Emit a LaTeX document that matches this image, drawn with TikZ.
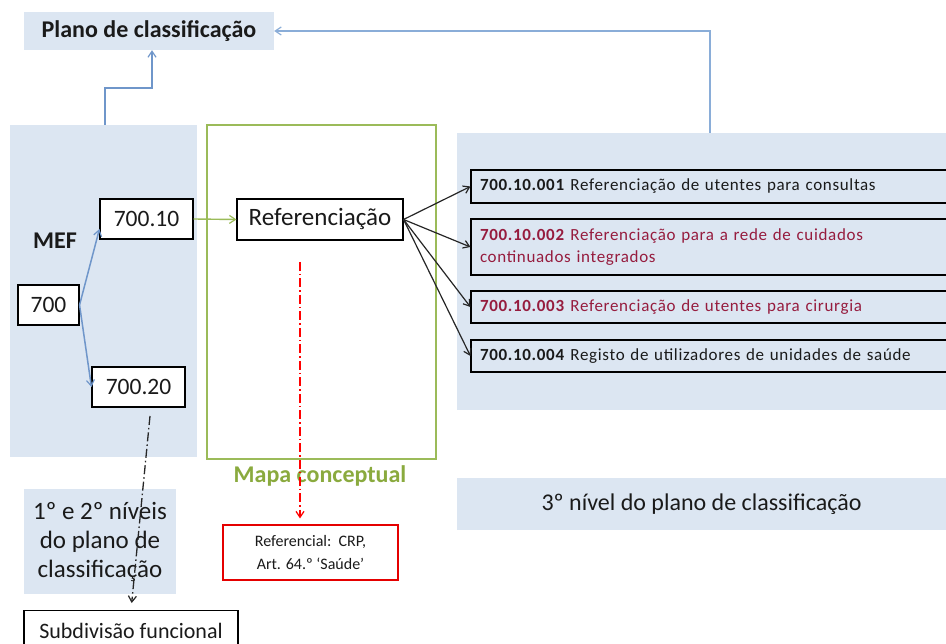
\documentclass[tikz,border=0pt]{standalone}
\usepackage{fontspec}
\setmainfont{Carlito}
\usetikzlibrary{arrows.meta}
\definecolor{panel}{HTML}{DCE6F2}
\definecolor{bluearr}{HTML}{6F96CA}
\definecolor{bluearr2}{HTML}{8AADD8}
\definecolor{grn}{HTML}{9BBB59}
\definecolor{grntxt}{HTML}{8AAA3E}
\definecolor{dred}{RGB}{150,28,62}
\definecolor{txt}{HTML}{1A1A1A}
\tikzset{
  panelbox/.style={fill=panel, draw=none, inner sep=0pt, text=txt},
  blk/.style={draw=black, line width=1.1pt, fill=white, inner sep=0pt, text=txt},
  item/.style={draw=black, line width=1.1pt, fill=panel, inner sep=0pt, inner xsep=9pt,
     minimum width=489pt, text width=471pt, align=left, text=txt,
     font=\fontsize{17}{22}\selectfont\addfontfeatures{LetterSpace=4}},
  fs/.style={font=\fontsize{#1}{#1}\selectfont},
  barb/.style={-{Straight Barb[length=6pt,width=8pt,line width=1.2pt]}},
}
\begin{document}
\begin{tikzpicture}[x=1pt,y=-1pt]
\useasboundingbox (0,0) rectangle (946,644);
\fill[white] (0,0) rectangle (946,644);
\clip (0,0) rectangle (946,644);

% panels
\node[panelbox, minimum width=250pt, minimum height=38pt, font=\fontsize{24}{24}\selectfont\bfseries] (plano) at (149,31) {Plano de classificação};
\node[panelbox, minimum width=187pt, minimum height=332pt] (mef) at (103.5,291) {};
\node[draw=grn, line width=1.3pt, minimum width=229pt, minimum height=334pt, inner sep=0pt] (mapa) at (321.5,292) {};
\node[panelbox, minimum width=489pt, minimum height=277pt] (right) at (701.5,271.5) {};

\node[text=txt, font=\fontsize{24}{24}\selectfont\bfseries] (meflbl) at (55,241) {MEF};

% MEF boxes
\node[blk, minimum width=61pt, minimum height=40pt, fs=23.5] (n700) at (48.5,305) {700};
\node[blk, minimum width=93pt, minimum height=40pt, fs=23.5] (n70010) at (146.5,219) {700.10};
\node[blk, minimum width=93pt, minimum height=40pt, fs=23.5] (n70020) at (138.5,387) {700.20};

% concept
\node[blk, minimum width=166pt, minimum height=41pt, fs=25] (ref) at (320,219.5) {Referenciação};

% right items
\node[item, minimum height=33pt] (b1) at (715.5,186.5) {\textbf{700.10.001} Referenciação de utentes para consultas};
\node[item, minimum height=56pt, text=dred] (b2) at (715.5,247) {\textbf{700.10.002} Referenciação para a rede de cuidados\\continuados integrados};
\node[item, minimum height=32pt, text=dred] (b3) at (715.5,307) {\textbf{700.10.003} Referenciação de utentes para cirurgia};
\node[item, minimum height=32pt] (b4) at (715.5,356) {\textbf{700.10.004} Registo de utilizadores de unidades de saúde};

% labels below
\node[text=grntxt, font=\fontsize{24}{24}\selectfont\bfseries] (mapalbl) at (320,476) {Mapa conceptual};
\node[draw=red!90!black, line width=1.2pt, fill=white, minimum width=175pt, minimum height=55pt, inner sep=0pt,
      align=center, text=txt, font=\fontsize{16}{23}\selectfont] (refl) at (310.5,552.5) {Referencial:\ \ CRP,\\Art. 64.º ‘Saúde’};
\node[panelbox, minimum width=152pt, minimum height=105pt, align=center, font=\fontsize{25}{29}\selectfont] (lev) at (100,541.5) {1º e 2º níveis\\do plano de\\classificação};
\node[blk, minimum width=214pt, minimum height=40pt, font=\fontsize{22}{22}\selectfont, anchor=north, text depth=0pt] (sub) at (131,610) {Subdivisão funcional};
\node[panelbox, minimum width=489pt, minimum height=52pt, font=\fontsize{24}{24}\selectfont] (lev3) at (701.5,504) {3º nível do plano de classificação};

% connectors
\draw[bluearr, line width=1.5pt, barb] (n700.east) -- (n70010.192);
\draw[bluearr, line width=1.5pt, barb] (n700.east) -- (n70020.west);
\draw[grn, line width=1.4pt, barb] (n70010.east) -- (ref.west);
\foreach \b in {b1,b2,b3,b4}
  \draw[black!85, line width=1.2pt, barb] (ref.east) -- (\b.west);

\coordinate (m1) at (105,88);
\coordinate (m2) at (152,88);
\draw[bluearr, line width=1.6pt, barb] (mef.north -| m1) -- (m1) -- (m2) -- (plano.south -| m2);
\coordinate (r1) at (710,31);
\draw[bluearr2, line width=2pt, barb] (right.north -| r1) -- (r1) -- (plano.east);

\coordinate (rd) at (300,262);
\draw[red, line width=1.3pt, dash pattern=on 9pt off 3pt on 1.5pt off 3pt, barb, shorten >=6pt] (rd) -- (rd |- refl.north);
\coordinate (kd) at (150,416);
\draw[black!85, line width=1.3pt, dash pattern=on 9pt off 3pt on 1.5pt off 3pt, barb, shorten >=7pt] (kd) -- (sub.north);
\end{tikzpicture}
\end{document}
